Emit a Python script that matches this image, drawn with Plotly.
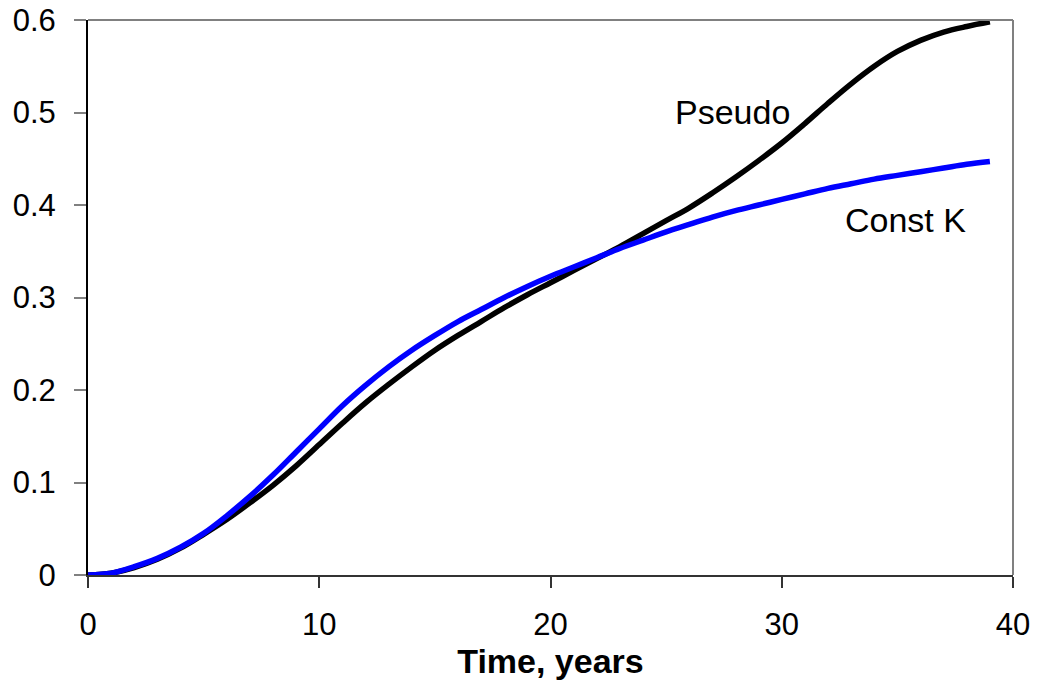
import plotly.graph_objects as go

# Time axis (years)
years = list(range(0, 40))

# Pseudo-steady solution
pseudo = [0.000, 0.002, 0.008, 0.017, 0.029, 0.044, 0.060, 0.078, 0.097, 0.118,
          0.141, 0.164, 0.186, 0.206, 0.225, 0.243, 0.259, 0.274, 0.289, 0.303,
          0.316, 0.329, 0.342, 0.355, 0.369, 0.383, 0.397, 0.413, 0.430, 0.448,
          0.467, 0.488, 0.510, 0.531, 0.550, 0.566, 0.578, 0.587, 0.593, 0.598]

# Constant-K solution
const_k = [0.000, 0.002, 0.009, 0.018, 0.030, 0.045, 0.064, 0.085, 0.108, 0.133,
           0.158, 0.183, 0.205, 0.225, 0.243, 0.259, 0.274, 0.287, 0.300, 0.312,
           0.323, 0.333, 0.343, 0.353, 0.362, 0.371, 0.379, 0.387, 0.394, 0.400,
           0.406, 0.412, 0.418, 0.423, 0.428, 0.432, 0.436, 0.440, 0.444, 0.447]

FONT = "Liberation Sans, Arial, sans-serif"

fig = go.Figure()
fig.add_trace(go.Scatter(x=years, y=pseudo, mode="lines", name="Pseudo",
                         line=dict(color="#000000", width=5.5, shape="spline"),
                         cliponaxis=False))
fig.add_trace(go.Scatter(x=years, y=const_k, mode="lines", name="Const K",
                         line=dict(color="#0000FF", width=5.5, shape="spline"),
                         cliponaxis=False))

fig.add_annotation(x=27.85, y=0.5005, text="Pseudo", showarrow=False,
                   font=dict(family=FONT, size=34, color="#000000"))
fig.add_annotation(x=35.33, y=0.384, text="Const K", showarrow=False,
                   font=dict(family=FONT, size=34, color="#000000"))

# Gray frame on the top and right sides of the plot area
fig.add_shape(type="line", xref="paper", yref="paper", x0=0, x1=1, y0=1, y1=1,
              line=dict(color="#808080", width=2))
fig.add_shape(type="line", xref="paper", yref="paper", x0=1, x1=1, y0=0, y1=1,
              line=dict(color="#808080", width=2))

fig.update_layout(
    width=1053, height=688,
    margin=dict(l=88, r=40, t=20, b=113),
    paper_bgcolor="white", plot_bgcolor="white",
    showlegend=False,
    font=dict(family=FONT, color="#000000"),
    xaxis=dict(range=[0, 40], dtick=10, tick0=0, automargin=False,
               showgrid=False, zeroline=False,
               showline=True, linecolor="#333333", linewidth=2,
               ticks="outside", ticklen=11, tickwidth=1.5, tickcolor="#333333",
               tickfont=dict(family=FONT, size=31),
               ticklabelstandoff=10,
               title=dict(text="<b>Time, years</b>", standoff=8,
                          font=dict(family=FONT, size=34))),
    yaxis=dict(range=[0, 0.6], dtick=0.1, tick0=0, automargin=False,
               showgrid=False, zeroline=False,
               showline=True, linecolor="#000000", linewidth=2,
               ticks="outside", ticklen=12, tickwidth=1.5, tickcolor="#808080",
               tickfont=dict(family=FONT, size=31),
               ticklabelstandoff=12),
)

fig.write_html("out.html")
